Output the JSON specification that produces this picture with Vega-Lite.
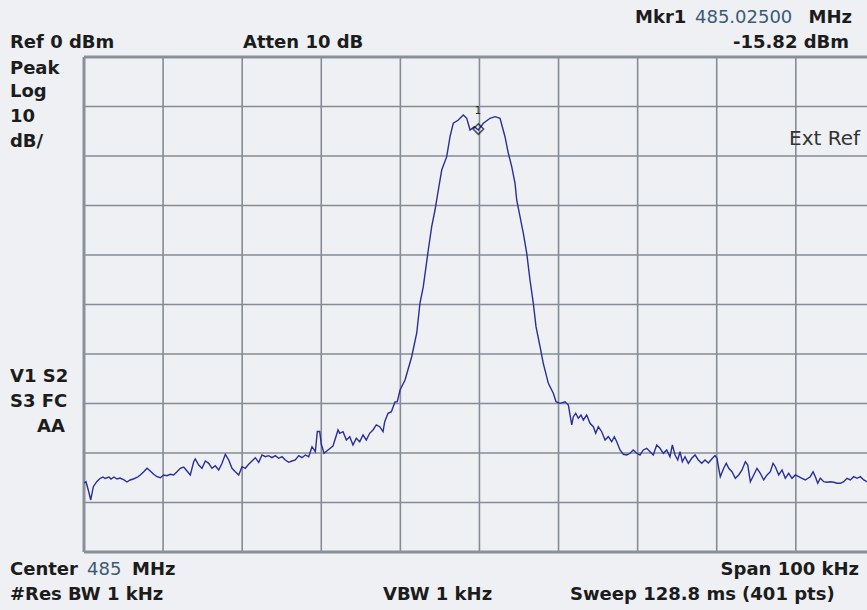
{
  "$schema": "https://vega.github.io/schema/vega-lite/v6.json",
  "width": 783,
  "height": 495,
  "autosize": {"type": "none"},
  "padding": {"left": 84, "top": 57, "right": 0, "bottom": 58},
  "background": "#eef0f4",
  "config": {
    "view": {"stroke": null, "fill": "#eef0f4"},
    "text": {"font": "DejaVu Sans"}
  },
  "layer": [
    {
      "data": {"values": [{"f":-40},{"f":-30},{"f":-20},{"f":-10},{"f":0},{"f":10},{"f":20},{"f":30},{"f":40}]},
      "mark": {"type": "rule", "color": "#858c95", "strokeWidth": 1.6},
      "encoding": {
        "x": {"field": "f", "type": "quantitative", "axis": null, "scale": {"domain": [-50, 49], "nice": false, "zero": false}}
      }
    },
    {
      "data": {"values": [{"p":-90},{"p":-80},{"p":-70},{"p":-60},{"p":-50},{"p":-40},{"p":-30},{"p":-20},{"p":-10}]},
      "mark": {"type": "rule", "color": "#858c95", "strokeWidth": 1.6},
      "encoding": {
        "y": {"field": "p", "type": "quantitative", "axis": null, "scale": {"domain": [-100, 0], "nice": false, "zero": false}}
      }
    },
    {
      "data": {"values": [{"f":-50}]},
      "mark": {"type": "rule", "color": "#8a9099", "strokeWidth": 3},
      "encoding": {
        "x": {"field": "f", "type": "quantitative", "axis": null, "scale": {"domain": [-50, 49], "nice": false, "zero": false}}
      }
    },
    {
      "data": {"values": [{"p":0},{"p":-100}]},
      "mark": {"type": "rule", "color": "#8a9099", "strokeWidth": 3},
      "encoding": {
        "y": {"field": "p", "type": "quantitative", "axis": null, "scale": {"domain": [-100, 0], "nice": false, "zero": false}}
      }
    },
    {
      "data": {"values": [
        {"f":-50.00,"p":-86.06},{"f":-49.75,"p":-85.80},{"f":-49.46,"p":-87.47},{"f":-49.15,"p":-89.49},{"f":-48.82,"p":-86.81},
        {"f":-48.39,"p":-85.80},{"f":-47.98,"p":-85.15},{"f":-47.60,"p":-84.85},{"f":-47.34,"p":-85.15},{"f":-46.84,"p":-84.85},
        {"f":-46.59,"p":-85.25},{"f":-46.21,"p":-84.85},{"f":-45.83,"p":-85.25},{"f":-45.45,"p":-85.05},{"f":-44.94,"p":-85.45},
        {"f":-44.56,"p":-85.86},{"f":-44.18,"p":-85.45},{"f":-43.77,"p":-85.25},{"f":-43.30,"p":-84.95},{"f":-42.88,"p":-84.44},
        {"f":-42.45,"p":-83.78},{"f":-42.03,"p":-83.09},{"f":-41.62,"p":-83.64},{"f":-41.19,"p":-84.30},{"f":-40.77,"p":-84.79},
        {"f":-40.35,"p":-84.99},{"f":-39.92,"p":-84.44},{"f":-39.51,"p":-84.59},{"f":-39.09,"p":-84.30},{"f":-38.66,"p":-84.44},
        {"f":-38.24,"p":-83.78},{"f":-37.82,"p":-83.09},{"f":-37.39,"p":-82.83},{"f":-36.98,"p":-83.64},{"f":-36.56,"p":-84.44},
        {"f":-36.13,"p":-81.76},{"f":-35.93,"p":-81.21},{"f":-35.50,"p":-82.42},{"f":-35.08,"p":-83.09},{"f":-34.66,"p":-81.62},
        {"f":-34.23,"p":-82.08},{"f":-33.82,"p":-83.09},{"f":-33.40,"p":-82.57},{"f":-32.97,"p":-83.43},{"f":-32.55,"p":-82.08},
        {"f":-32.13,"p":-80.26},{"f":-31.70,"p":-81.41},{"f":-31.29,"p":-83.09},{"f":-30.87,"p":-83.78},{"f":-30.44,"p":-84.44},
        {"f":-30.02,"p":-82.77},{"f":-29.61,"p":-83.09},{"f":-29.18,"p":-82.28},{"f":-28.76,"p":-81.62},{"f":-28.34,"p":-80.95},
        {"f":-27.91,"p":-81.88},{"f":-27.49,"p":-80.40},{"f":-27.08,"p":-80.75},{"f":-26.65,"p":-80.54},{"f":-26.23,"p":-80.95},
        {"f":-25.81,"p":-80.54},{"f":-25.38,"p":-81.07},{"f":-24.96,"p":-80.75},{"f":-24.55,"p":-81.41},{"f":-24.12,"p":-81.88},
        {"f":-23.70,"p":-81.62},{"f":-23.28,"p":-81.41},{"f":-22.85,"p":-80.54},{"f":-22.44,"p":-80.95},{"f":-22.02,"p":-80.40},
        {"f":-21.59,"p":-80.75},{"f":-21.17,"p":-78.73},{"f":-20.75,"p":-79.74},{"f":-20.50,"p":-75.66},{"f":-20.20,"p":-75.66},
        {"f":-20.00,"p":-78.18},{"f":-19.65,"p":-80.06},{"f":-19.15,"p":-79.39},{"f":-18.52,"p":-78.59},{"f":-17.88,"p":-75.35},
        {"f":-17.67,"p":-76.02},{"f":-17.25,"p":-75.70},{"f":-16.83,"p":-77.37},{"f":-16.40,"p":-76.71},{"f":-15.99,"p":-78.38},
        {"f":-15.57,"p":-77.03},{"f":-15.14,"p":-77.72},{"f":-14.72,"p":-76.36},{"f":-14.31,"p":-77.37},{"f":-13.88,"p":-76.02},
        {"f":-13.46,"p":-75.35},{"f":-13.04,"p":-74.34},{"f":-12.61,"p":-74.69},{"f":-12.19,"p":-75.70},{"f":-11.98,"p":-73.68},
        {"f":-11.56,"p":-71.98},{"f":-11.14,"p":-71.66},{"f":-10.68,"p":-69.70},{"f":-10.39,"p":-69.64},{"f":-10.04,"p":-67.27},
        {"f":-9.41,"p":-65.25},{"f":-8.57,"p":-60.55},{"f":-7.93,"p":-55.76},{"f":-7.52,"p":-49.70},{"f":-7.10,"p":-46.40},
        {"f":-6.47,"p":-38.99},{"f":-6.04,"p":-34.28},{"f":-5.62,"p":-30.91},{"f":-5.20,"p":-26.87},{"f":-4.77,"p":-22.83},
        {"f":-4.14,"p":-20.14},{"f":-3.72,"p":-16.10},{"f":-3.31,"p":-13.39},{"f":-2.67,"p":-12.73},{"f":-2.04,"p":-11.72},
        {"f":-1.61,"p":-12.38},{"f":-1.19,"p":-14.75},{"f":-0.65,"p":-14.08},{"f":-0.14,"p":-14.75},{"f":0.49,"p":-13.39},
        {"f":1.34,"p":-12.38},{"f":1.97,"p":-12.06},{"f":2.60,"p":-12.38},{"f":3.23,"p":-16.10},{"f":3.65,"p":-19.45},
        {"f":4.08,"p":-22.16},{"f":4.50,"p":-25.52},{"f":4.71,"p":-28.89},{"f":5.13,"p":-32.26},{"f":5.55,"p":-35.62},
        {"f":5.98,"p":-39.66},{"f":6.39,"p":-45.05},{"f":6.81,"p":-49.76},{"f":7.15,"p":-54.48},{"f":7.66,"p":-58.53},
        {"f":8.07,"p":-61.88},{"f":8.71,"p":-65.92},{"f":9.34,"p":-67.94},{"f":9.68,"p":-69.64},{"f":10.19,"p":-69.96},
        {"f":10.82,"p":-69.64},{"f":11.24,"p":-70.30},{"f":11.45,"p":-72.32},{"f":11.67,"p":-74.34},{"f":11.87,"p":-72.67},
        {"f":12.17,"p":-71.98},{"f":12.50,"p":-72.99},{"f":12.84,"p":-72.32},{"f":13.13,"p":-73.33},{"f":13.56,"p":-72.32},
        {"f":13.98,"p":-74.00},{"f":14.40,"p":-74.69},{"f":14.70,"p":-76.02},{"f":15.03,"p":-74.69},{"f":15.46,"p":-75.70},
        {"f":15.88,"p":-77.37},{"f":16.29,"p":-76.71},{"f":16.72,"p":-77.72},{"f":17.05,"p":-76.71},{"f":17.36,"p":-77.72},
        {"f":17.77,"p":-79.39},{"f":18.19,"p":-80.26},{"f":18.62,"p":-80.40},{"f":19.04,"p":-80.06},{"f":19.45,"p":-79.39},
        {"f":19.88,"p":-80.06},{"f":20.30,"p":-80.40},{"f":20.72,"p":-79.39},{"f":21.15,"p":-79.05},{"f":21.57,"p":-79.74},
        {"f":21.98,"p":-80.40},{"f":22.41,"p":-78.38},{"f":22.83,"p":-79.05},{"f":23.25,"p":-80.06},{"f":23.68,"p":-79.39},
        {"f":24.09,"p":-80.75},{"f":24.39,"p":-78.38},{"f":24.73,"p":-80.40},{"f":25.07,"p":-81.41},{"f":25.36,"p":-79.74},
        {"f":25.65,"p":-81.76},{"f":25.99,"p":-80.75},{"f":26.41,"p":-82.08},{"f":26.84,"p":-81.07},{"f":27.26,"p":-80.40},
        {"f":27.67,"p":-81.41},{"f":28.10,"p":-82.08},{"f":28.52,"p":-81.41},{"f":28.94,"p":-82.02},{"f":29.37,"p":-81.21},
        {"f":29.78,"p":-80.51},{"f":30.04,"p":-81.07},{"f":30.25,"p":-83.09},{"f":30.45,"p":-84.79},{"f":30.88,"p":-83.09},
        {"f":31.21,"p":-82.08},{"f":31.52,"p":-83.09},{"f":31.93,"p":-83.78},{"f":32.35,"p":-85.11},{"f":32.78,"p":-84.44},
        {"f":33.20,"p":-83.43},{"f":33.62,"p":-81.76},{"f":33.92,"p":-82.42},{"f":34.25,"p":-85.80},{"f":34.68,"p":-84.44},
        {"f":35.09,"p":-83.09},{"f":35.51,"p":-84.10},{"f":35.94,"p":-85.45},{"f":36.36,"p":-84.44},{"f":36.78,"p":-83.78},
        {"f":37.12,"p":-82.08},{"f":37.41,"p":-82.77},{"f":37.84,"p":-84.44},{"f":38.26,"p":-83.43},{"f":38.67,"p":-85.11},
        {"f":39.10,"p":-84.10},{"f":39.52,"p":-85.11},{"f":39.94,"p":-84.44},{"f":40.37,"p":-84.79},{"f":40.78,"p":-85.11},
        {"f":41.20,"p":-85.45},{"f":41.83,"p":-84.79},{"f":42.18,"p":-83.78},{"f":42.47,"p":-84.79},{"f":42.77,"p":-86.12},
        {"f":43.10,"p":-85.11},{"f":43.53,"p":-85.80},{"f":43.95,"p":-85.92},{"f":44.36,"p":-85.80},{"f":44.79,"p":-85.92},
        {"f":45.21,"p":-86.12},{"f":45.63,"p":-86.12},{"f":46.06,"p":-85.80},{"f":46.47,"p":-85.11},{"f":46.89,"p":-85.45},
        {"f":47.32,"p":-84.79},{"f":47.74,"p":-85.11},{"f":48.16,"p":-84.79},{"f":48.59,"p":-85.45},{"f":49.00,"p":-85.80}
      ]},
      "mark": {"type": "line", "color": "#2a2e9a", "strokeWidth": 1.4, "clip": true},
      "encoding": {
        "x": {"field": "f", "type": "quantitative", "axis": null, "scale": {"domain": [-50, 49], "nice": false, "zero": false}},
        "y": {"field": "p", "type": "quantitative", "axis": null, "scale": {"domain": [-100, 0], "nice": false, "zero": false}}
      }
    },
    {
      "data": {"values": [{"f": -0.14, "p": -14.55}]},
      "mark": {"type": "point", "shape": "diamond", "filled": false, "color": "#111111", "size": 110, "strokeWidth": 1.6},
      "encoding": {
        "x": {"field": "f", "type": "quantitative", "axis": null},
        "y": {"field": "p", "type": "quantitative", "axis": null}
      }
    },
    {
      "data": {"values": [{"t": "1", "f": -0.18, "p": -11.52}]},
      "mark": {"type": "text", "align": "center", "baseline": "alphabetic", "fontSize": 10, "color": "#222222"},
      "encoding": {
        "x": {"field": "f", "type": "quantitative", "axis": null},
        "y": {"field": "p", "type": "quantitative", "axis": null},
        "text": {"field": "t"}
      }
    },
    {
      "data": {"values": [
        {"t": "Ref 0 dBm", "f": -59.36, "p": 1.82},
        {"t": "Atten 10 dB", "f": -29.90, "p": 1.82},
        {"t": "Peak", "f": -59.36, "p": -3.43},
        {"t": "Log", "f": -59.36, "p": -8.08},
        {"t": "10", "f": -59.36, "p": -13.13},
        {"t": "dB/", "f": -59.36, "p": -18.18},
        {"t": "V1  S2", "f": -59.36, "p": -65.66},
        {"t": "S3  FC", "f": -59.36, "p": -70.71},
        {"t": "AA", "f": -55.94, "p": -75.76},
        {"t": "Center", "f": -59.36, "p": -104.65},
        {"t": "MHz", "f": -43.93, "p": -104.65},
        {"t": "#Res BW 1 kHz", "f": -59.36, "p": -109.70},
        {"t": "VBW 1 kHz", "f": -12.19, "p": -109.70},
        {"t": "Sweep 128.8 ms (401 pts)", "f": 11.45, "p": -109.70},
        {"t": "Mkr1", "f": 19.67, "p": 6.87}
      ]},
      "mark": {"type": "text", "align": "left", "baseline": "alphabetic", "fontSize": 18, "fontWeight": "bold", "color": "#1c1c1c"},
      "encoding": {
        "x": {"field": "f", "type": "quantitative", "axis": null},
        "y": {"field": "p", "type": "quantitative", "axis": null},
        "text": {"field": "t"}
      }
    },
    {
      "data": {"values": [
        {"t": "MHz", "f": 47.10, "p": 6.87},
        {"t": "-15.82 dBm", "f": 46.73, "p": 1.72},
        {"t": "Span 100 kHz", "f": 47.99, "p": -104.65}
      ]},
      "mark": {"type": "text", "align": "right", "baseline": "alphabetic", "fontSize": 18, "fontWeight": "bold", "color": "#1c1c1c"},
      "encoding": {
        "x": {"field": "f", "type": "quantitative", "axis": null},
        "y": {"field": "p", "type": "quantitative", "axis": null},
        "text": {"field": "t"}
      }
    },
    {
      "data": {"values": [
        {"t": "485.02500", "f": 27.25, "p": 6.87},
        {"t": "485", "f": -49.62, "p": -104.65}
      ]},
      "mark": {"type": "text", "align": "left", "baseline": "alphabetic", "fontSize": 18, "fontWeight": "normal", "color": "#3a5a78"},
      "encoding": {
        "x": {"field": "f", "type": "quantitative", "axis": null},
        "y": {"field": "p", "type": "quantitative", "axis": null},
        "text": {"field": "t"}
      }
    },
    {
      "data": {"values": [{"t": "Ext Ref", "f": 48.12, "p": -17.78}]},
      "mark": {"type": "text", "align": "right", "baseline": "alphabetic", "fontSize": 20, "fontWeight": "normal", "color": "#333333"},
      "encoding": {
        "x": {"field": "f", "type": "quantitative", "axis": null},
        "y": {"field": "p", "type": "quantitative", "axis": null},
        "text": {"field": "t"}
      }
    }
  ]
}
